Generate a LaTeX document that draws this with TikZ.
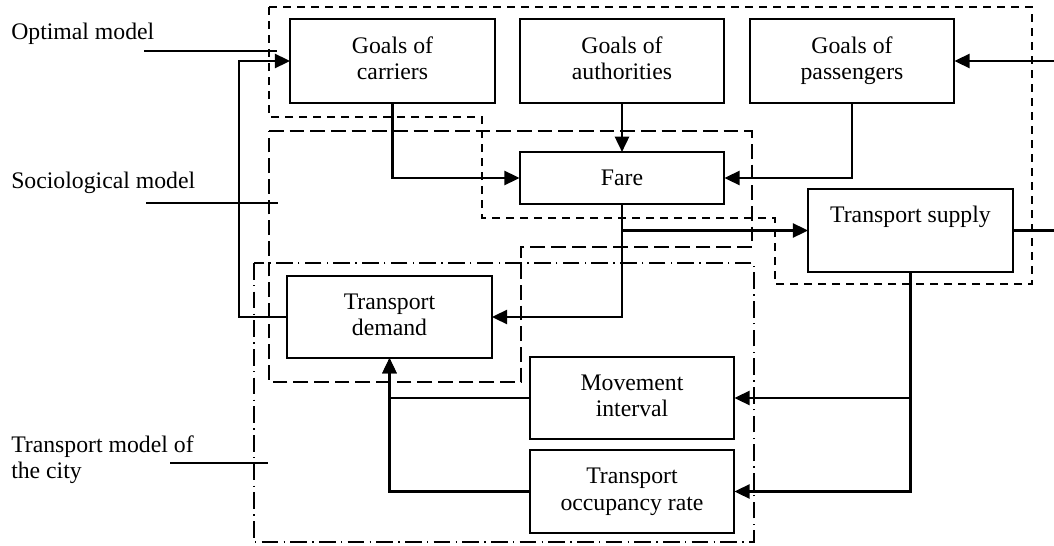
\documentclass[tikz,border=0pt]{standalone}
\usepackage{fontspec}
\setmainfont{Liberation Serif}
\usetikzlibrary{arrows.meta}
\newcommand{\dfont}{\fontsize{17.8}{20}\selectfont}
\begin{document}
\begin{tikzpicture}[x=0.75pt,y=-0.75pt,
  box/.style={draw, line width=1.4pt, inner sep=0pt, outer sep=0pt, align=center, minimum width=153.5pt, font=\dfont},
  conn/.style={line width=1.9pt, -{Triangle[length=11.5pt,width=10.5pt]}},
  plainline/.style={line width=1.9pt},
  lbl/.style={font=\dfont, inner sep=0pt, anchor=base west},
  optreg/.style={line width=1.1pt, dash pattern=on 6pt off 4.5pt},
  socreg/.style={line width=1.1pt, dash pattern=on 11pt off 4.5pt},
  cityreg/.style={line width=1.1pt, dash pattern=on 12.5pt off 4pt on 1pt off 4pt},
  leader/.style={line width=1.2pt}]
\useasboundingbox (0,0) rectangle (1054,546);

% boxes
\node[box, minimum height=63pt] (car) at (392.5,61) {\strut Goals of\\carriers\strut};
\node[box, minimum height=63pt] (aut) at (622,61) {\strut Goals of\\authorities\strut};
\node[box, minimum height=63pt] (pas) at (852,61) {\strut Goals of\\passengers\strut};
\node[box, minimum height=39pt] (fare) at (622,178) {Fare};
\node[box, minimum height=62.25pt] (sup) at (910.5,230.5) {\strut Transport supply\\\strut};
\node[box, minimum height=61.5pt] (dem) at (389.5,317) {\strut Transport\\demand\strut};
\node[box, minimum height=61.5pt] (mov) at (632,398) {\strut Movement\\interval\strut};
\node[box, minimum height=62.25pt] (occ) at (632,491.5) {\strut Transport\\occupancy rate\strut};

% labels
\node[lbl] (lopt) at (11,40) {Optimal model};
\node[lbl] (lsoc) at (11,188) {Sociological model};
\node[lbl] (lcity1) at (11,452) {Transport model of};
\node[lbl] (lcity2) at (11,478) {the city};

% region outlines
\draw[optreg] (269,7) -- (1032,7) -- (1032,284) -- (775,284) -- (775,218) -- (482,218) -- (482,117) -- (269,117) -- cycle;
\draw[socreg] (269,131) -- (752,131) -- (752,247) -- (521,247) -- (521,382) -- (269,382) -- cycle;
\draw[cityreg] (254,263) rectangle (754,542);

% leader lines
\coordinate (a1) at (144,51); \coordinate (a2) at (277,51);
\coordinate (b1) at (146,203); \coordinate (b2) at (278,203);
\coordinate (c1) at (170,463); \coordinate (c2) at (268,463);
\draw[leader] (a1) -- (a2);
\draw[leader] (b1) -- (b2);
\draw[leader] (c1) -- (c2);

% connectors
\coordinate (fb) at (239,317);
\coordinate (inp) at (1054,61);
\coordinate (outp) at (1054,230.5);
\draw[conn] (dem.west) -- (fb) |- (car.west);
\draw[conn] (car.south) |- (fare.west);
\draw[conn] (aut.south) -- (fare.north);
\draw[conn] (pas.south) |- (fare.east);
\draw[conn] (inp) -- (pas.east);
\draw[conn] (fare.south) |- (dem.east);
\coordinate (br) at (fare.south |- sup.west);
\draw[conn] (br) -- (sup.west);
\draw[plainline] (sup.east) -- (outp);
\draw[conn] (sup.south) |- (mov.east);
\draw[conn] (sup.south) |- (occ.east);
\draw[conn] (mov.west) -| (dem.south);
\draw[conn] (occ.west) -| (dem.south);
\end{tikzpicture}
\end{document}
